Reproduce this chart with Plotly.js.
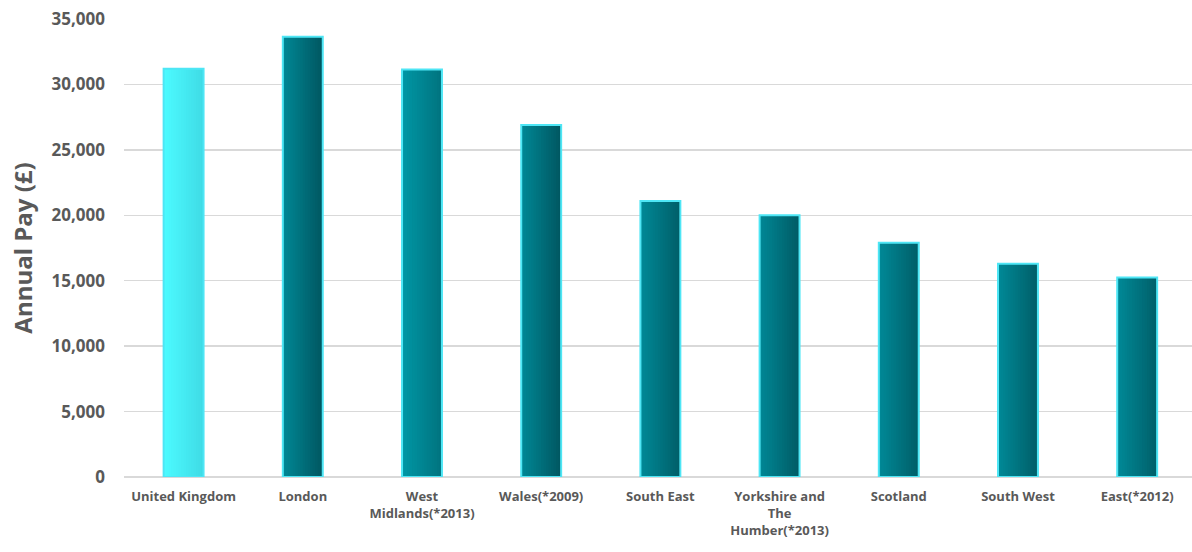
<!DOCTYPE html>
<html>
<head>
<meta charset="utf-8">
<script src="https://cdn.plot.ly/plotly-3.0.1.min.js"></script>
<style>html,body{margin:0;padding:0;background:#fff}#chart{width:1192px;height:552px}</style>
</head>
<body>
<div id="chart"></div>
<script>
const categories = ["United Kingdom", "London", "West<br>Midlands(*2013)", "Wales(*2009)", "South East", "Yorkshire and<br>The<br>Humber(*2013)", "Scotland", "South West", "East(*2012)"];
const annualPay = [31200, 33650, 31150, 26900, 21100, 20000, 17900, 16300, 15250];
const leftColors  = ["#4cfaff", "#008694", "#0096a4", "#008694", "#008896", "#008694", "#008896", "#008896", "#008896"];
const rightColors = ["#3fdce6", "#005862", "#007480", "#005862", "#005f69", "#005c66", "#005f69", "#005f69", "#00606a"];

function hexToRgb(h) { return [1, 3, 5].map(i => parseInt(h.slice(i, i + 2), 16)); }
function mix(a, b, t) {
  const A = hexToRgb(a), B = hexToRgb(b);
  return "rgb(" + A.map((v, i) => Math.round(v + (B[i] - v) * t)).join(",") + ")";
}

const barWidth = 0.335;
const strips = 16;
const stripW = barWidth / strips;
const traces = [];
for (let k = 0; k < strips; k++) {
  const t = k / (strips - 1);
  traces.push({
    type: "bar",
    x: categories,
    y: annualPay,
    width: barWidth - k * stripW,
    offset: -barWidth / 2 + k * stripW,
    marker: { color: leftColors.map((c, i) => mix(c, rightColors[i], t)), line: { width: 0 } },
    hoverinfo: "skip"
  });
}
traces.push({
  type: "bar",
  x: categories,
  y: annualPay,
  width: barWidth,
  offset: -barWidth / 2,
  marker: { color: "rgba(0,0,0,0)", line: { color: "#4ee6f5", width: 2 } },
  hoverinfo: "x+y"
});

const layout = {
  width: 1192, height: 552,
  margin: { l: 124, r: 0, t: 19, b: 75 },
  paper_bgcolor: "#ffffff", plot_bgcolor: "#ffffff",
  barmode: "overlay",
  showlegend: false,
  font: { family: "Open Sans, sans-serif", color: "#595959" },
  xaxis: {
    type: "category",
    range: [-0.5, 8.46],
    tickfont: { size: 13, color: "#595959", weight: "bold" },
    ticklabelstandoff: 10,
    showgrid: false, showline: false, zeroline: false,
    ticks: "", tickangle: 0, fixedrange: true
  },
  yaxis: {
    range: [0, 35000],
    dtick: 5000,
    tickformat: ",d",
    tickfont: { size: 17, color: "#595959", weight: "bold" },
    ticklabelstandoff: 18,
    showgrid: true, gridcolor: "#d9d9d9", gridwidth: 1.5,
    zeroline: true, zerolinecolor: "#d9d9d9", zerolinewidth: 1.5,
    showline: false, ticks: "",
    title: { text: "Annual Pay (£)", font: { size: 24, color: "#595959", weight: "bold" }, standoff: 12 }
  }
};

Plotly.newPlot("chart", traces, layout, { displayModeBar: false, staticPlot: true });
</script>
</body>
</html>
